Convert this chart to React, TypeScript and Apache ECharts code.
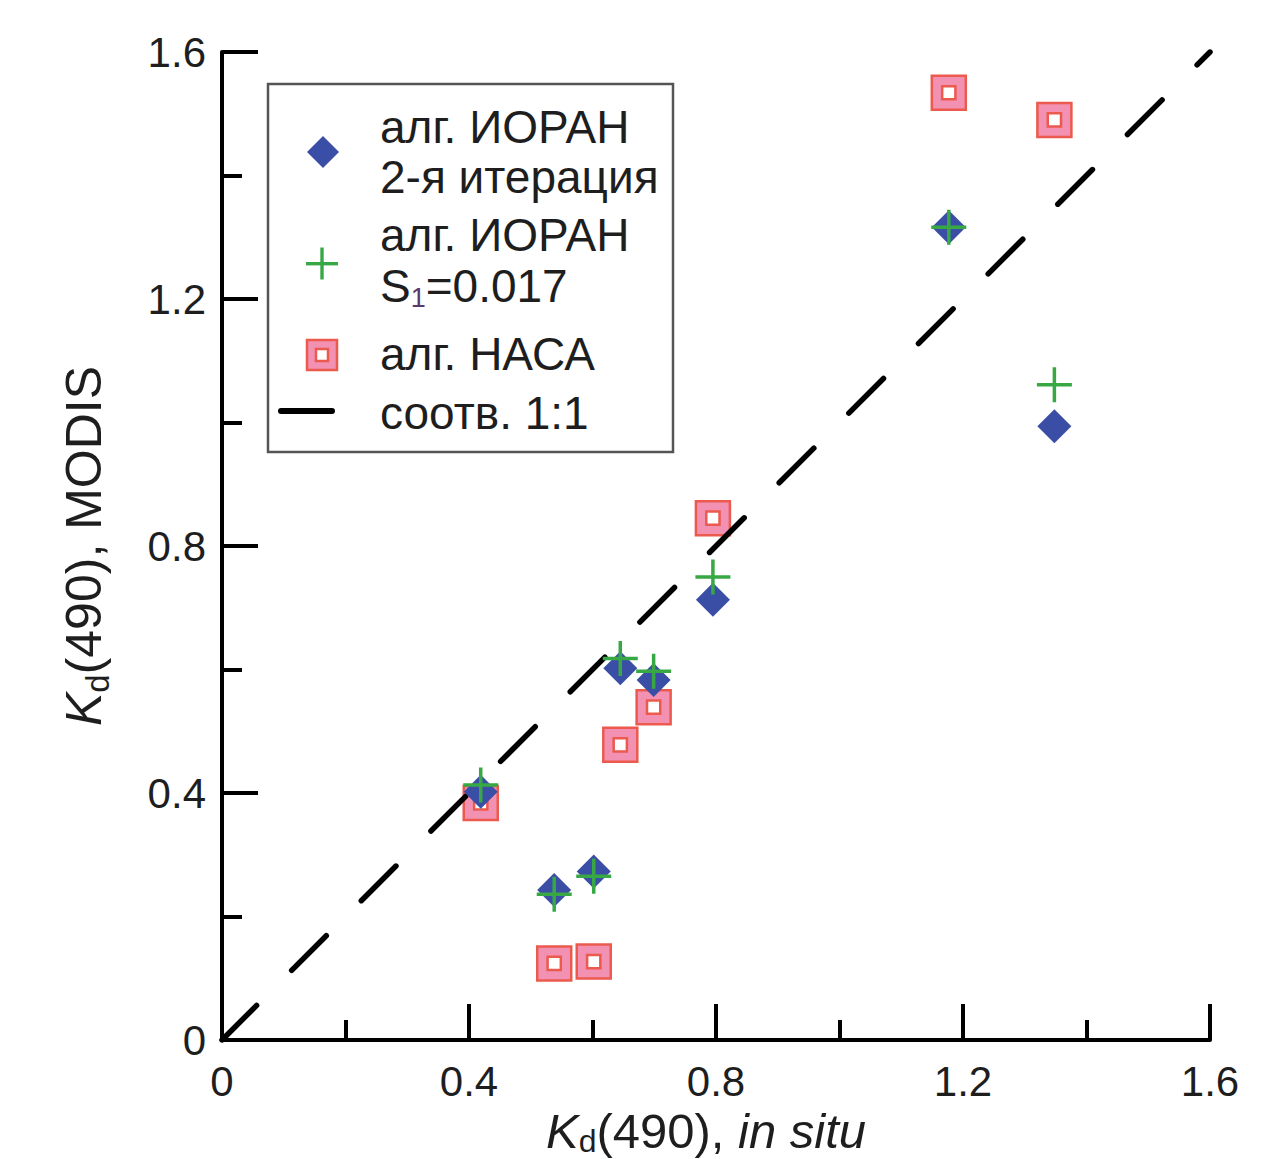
import React, { useEffect, useRef } from "react";
import * as echarts from "echarts";

// Kd(490) in situ (x) for each station
const xInSitu = [0.419, 0.538, 0.602, 0.645, 0.699, 0.795, 1.177, 1.348];
// MODIS retrievals (y)
const ioranIter2 = [0.402, 0.243, 0.273, 0.602, 0.583, 0.713, 1.316, 0.994];
const ioranS1 = [0.413, 0.236, 0.265, 0.618, 0.597, 0.75, 1.316, 1.061];
const nasa = [0.384, 0.124, 0.127, 0.478, 0.539, 0.845, 1.534, 1.49];
const oneToOne = [
  [0, 0],
  [1.6, 1.6],
];
const axisMin = 0;
const axisMax = 1.6;
const axisStep = 0.4;

const FONT = "Liberation Sans, Arial, Helvetica, sans-serif";
const BLUE = "#3a4ea6";
const GREEN = "#38a845";
const PINK = "#f291b2";
const RED = "#ec5a4e";
const TXT = "#1e1e1e";

const SQUARE_PATH = "path://M0,0H36V36H0Z M11,11V25H25V11Z";
const PLUS_PATH =
  "path://M16.2,0H19.8V16.2H36V19.8H19.8V36H16.2V19.8H0V16.2H16.2Z";

const pairs = (ys: number[]) => xInSitu.map((x, i) => [x, ys[i]]);

export default function App() {
  const ref = useRef<HTMLDivElement>(null);
  useEffect(() => {
    if (!ref.current) return;
    const chart = echarts.init(ref.current, null, { renderer: "svg" });
    const mkRich = (fs: number, lh: number, sfs: number) => ({
      i: { fontStyle: "italic", fontSize: fs, fontFamily: FONT, color: TXT, lineHeight: lh },
      n: { fontSize: fs, fontFamily: FONT, color: TXT, lineHeight: lh },
      s: { fontSize: sfs, fontFamily: FONT, color: TXT, lineHeight: sfs, verticalAlign: "bottom" },
    });
    const axisCommon = {
      type: "value",
      min: axisMin,
      max: axisMax,
      interval: axisStep,
      axisLine: { show: true, onZero: false, lineStyle: { color: "#000", width: 4 } },
      axisTick: { show: true, inside: true, length: 36, lineStyle: { color: "#000", width: 4 } },
      minorTick: { show: true, splitNumber: 2, length: 20, lineStyle: { color: "#000", width: 4 } },
      splitLine: { show: false },
      minorSplitLine: { show: false },
    };
    const legX = 268;
    const legTexts = [
      { t: "алг. ИОРАН", y: 127 },
      { t: "2-я итерация", y: 177 },
      { t: "алг. ИОРАН", y: 235 },
      { t: "{a|S}{s|1}{a|=0.017}", y: 286 },
      { t: "алг. НАСА", y: 354 },
      { t: "соотв. 1:1", y: 413 },
    ];
    chart.setOption({
      animation: false,
      backgroundColor: "#fff",
      grid: {
        left: 222,
        top: 52,
        width: 988,
        height: 988,
        containLabel: false,
        outerBoundsMode: "none",
      },
      xAxis: {
        ...axisCommon,
        name: "{i|K}{s|d}{n|(490), }{i|in situ}",
        nameLocation: "middle",
        nameGap: 52,
        nameTextStyle: { rich: mkRich(49, 52, 32), padding: [0, 20, 0, 0] },
        axisLabel: {
          fontSize: 42,
          fontFamily: FONT,
          color: TXT,
          margin: 20,
          formatter: (v: number) => (v === 0 ? "0" : v.toFixed(1)),
        },
      },
      yAxis: {
        ...axisCommon,
        name: "{i|K}{s|d}{n|(490), MODIS}",
        nameLocation: "middle",
        nameGap: 108,
        nameRotate: 90,
        nameTextStyle: { rich: mkRich(50, 60, 33) },
        axisLabel: {
          fontSize: 42,
          fontFamily: FONT,
          color: TXT,
          margin: 16,
          formatter: (v: number) => (v === 0 ? "0" : v.toFixed(1)),
        },
      },
      series: [
        {
          name: "алг. НАСА",
          type: "scatter",
          data: pairs(nasa),
          symbol: SQUARE_PATH,
          symbolSize: 34,
          itemStyle: { color: PINK, borderColor: RED, borderWidth: 2.5, opacity: 1 },
          z: 2,
        },
        {
          name: "соотв. 1:1",
          type: "line",
          data: oneToOne,
          showSymbol: false,
          symbol: "none",
          lineStyle: { color: "#000", width: 5.5, type: [49, 49.5], cap: "round" },
          z: 3,
        },
        {
          name: "алг. ИОРАН 2-я итерация",
          type: "scatter",
          data: pairs(ioranIter2),
          symbol: "diamond",
          symbolSize: 34,
          itemStyle: { color: BLUE, opacity: 1 },
          z: 4,
        },
        {
          name: "алг. ИОРАН S1=0.017",
          type: "scatter",
          data: pairs(ioranS1),
          symbol: PLUS_PATH,
          symbolSize: 35,
          itemStyle: { color: GREEN, opacity: 1 },
          z: 5,
        },
      ],
      graphic: [
        {
          type: "group",
          z: 100,
          children: [
            {
              type: "rect",
              shape: { x: legX, y: 84, width: 405, height: 368 },
              style: { fill: "#fff", stroke: "#555", lineWidth: 2.5 },
            },
            {
              type: "polygon",
              shape: { points: [[323, 136], [339, 152], [323, 168], [307, 152]] },
              style: { fill: BLUE },
            },
            {
              type: "rect",
              shape: { x: 306, y: 262, width: 32, height: 3.4 },
              style: { fill: GREEN },
            },
            {
              type: "rect",
              shape: { x: 320.3, y: 247.5, width: 3.4, height: 32 },
              style: { fill: GREEN },
            },
            {
              type: "rect",
              shape: { x: 307, y: 340, width: 30, height: 30 },
              style: { fill: PINK, stroke: RED, lineWidth: 2.5 },
            },
            {
              type: "rect",
              shape: { x: 316, y: 349, width: 12, height: 12 },
              style: { fill: "#fff", stroke: RED, lineWidth: 2.5 },
            },
            {
              type: "line",
              shape: { x1: 281, y1: 411, x2: 332, y2: 411 },
              style: { stroke: "#000", lineWidth: 6, lineCap: "round" },
            },
            ...legTexts.map((l) => ({
              type: "text",
              x: 380,
              y: l.y,
              style: {
                text: l.t,
                fill: TXT,
                fontSize: 46,
                fontFamily: FONT,
                verticalAlign: "middle",
                align: "left",
                rich: {
                  a: { fontSize: 46, fontFamily: FONT, fill: TXT, lineHeight: 50 },
                  s: { fontSize: 27, fontFamily: FONT, fill: "#5a3a6a", lineHeight: 27, verticalAlign: "bottom" },
                },
              },
            })),
          ],
        },
      ],
    });
    return () => chart.dispose();
  }, []);
  return (
    <div
      ref={ref}
      style={{ position: "fixed", left: 0, top: 0, width: 1261, height: 1159, background: "#fff" }}
    />
  );
}
